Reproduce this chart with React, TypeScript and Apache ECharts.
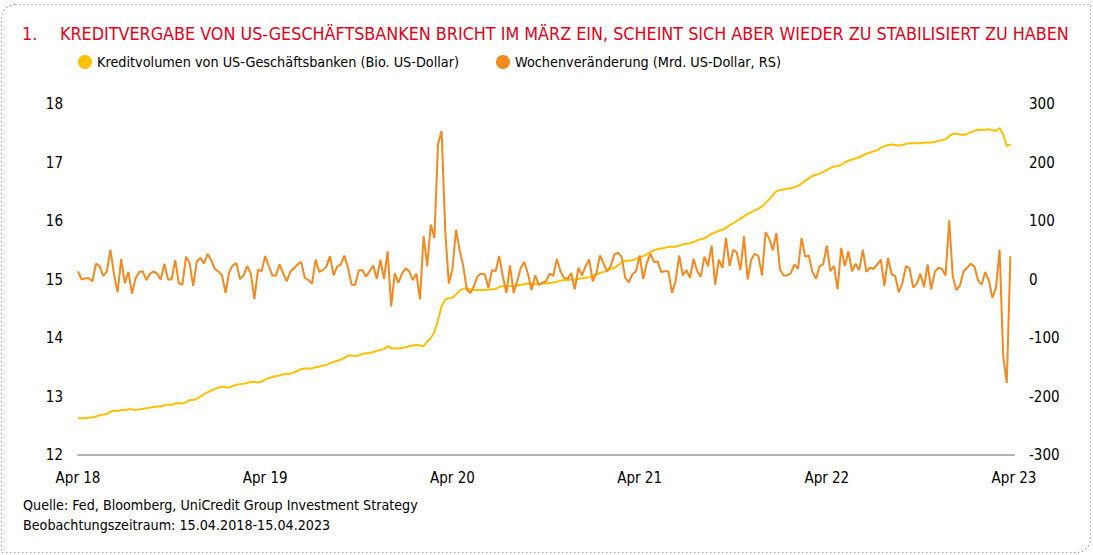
import React, { useEffect, useRef } from "react";
import * as echarts from "echarts";

const FONT = "'Liberation Sans Narrow', 'DejaVu Sans Condensed', 'Noto Sans', sans-serif";

const titleNumber = "1.";
const titleText =
  "KREDITVERGABE VON US-GESCHÄFTSBANKEN BRICHT IM MÄRZ EIN, SCHEINT SICH ABER WIEDER ZU STABILISIERT ZU HABEN";
const seriesNames = [
  "Kreditvolumen von US-Geschäftsbanken (Bio. US-Dollar)",
  "Wochenveränderung (Mrd. US-Dollar, RS)",
];
const footerLines = [
  "Quelle: Fed, Bloomberg, UniCredit Group Investment Strategy",
  "Beobachtungszeitraum: 15.04.2018-15.04.2023",
];
const tickLabels = ["Apr 18", "Apr 19", "Apr 20", "Apr 21", "Apr 22", "Apr 23"];
const weeksPerYear = 52;
const weekCount = 261;
const startDate = Date.UTC(2018, 3, 15);
const categories = Array.from({ length: weekCount }, (_, i) =>
  new Date(startDate + i * 7 * 86400000).toISOString().slice(0, 10)
);

// Credit volume, trillion USD (left axis)
const creditVolume = [
  12.63, 12.63, 12.63, 12.64, 12.64, 12.66, 12.68, 12.69, 12.70, 12.74,
  12.76, 12.75, 12.77, 12.77, 12.78, 12.78, 12.77, 12.78, 12.79, 12.80,
  12.81, 12.82, 12.83, 12.83, 12.85, 12.86, 12.86, 12.88, 12.89, 12.88,
  12.90, 12.94, 12.94, 12.96, 13.00, 13.04, 13.07, 13.10, 13.13, 13.15,
  13.17, 13.16, 13.15, 13.18, 13.20, 13.21, 13.22, 13.23, 13.25, 13.25,
  13.24, 13.26, 13.29, 13.32, 13.33, 13.35, 13.36, 13.38, 13.39, 13.39,
  13.41, 13.44, 13.47, 13.48, 13.48, 13.48, 13.50, 13.51, 13.53, 13.54,
  13.57, 13.59, 13.61, 13.63, 13.66, 13.70, 13.70, 13.69, 13.70, 13.73,
  13.74, 13.74, 13.76, 13.78, 13.80, 13.81, 13.86, 13.83, 13.82, 13.82,
  13.83, 13.84, 13.86, 13.87, 13.88, 13.87, 13.86, 13.94, 14.00, 14.10,
  14.31, 14.54, 14.66, 14.68, 14.69, 14.74, 14.81, 14.84, 14.85, 14.83,
  14.82, 14.82, 14.82, 14.82, 14.83, 14.83, 14.84, 14.87, 14.89, 14.89,
  14.89, 14.89, 14.90, 14.91, 14.92, 14.93, 14.92, 14.92, 14.92, 14.93,
  14.93, 14.94, 14.95, 14.96, 14.98, 14.99, 14.99, 15.00, 15.00, 15.01,
  15.02, 15.03, 15.04, 15.06, 15.09, 15.11, 15.13, 15.15, 15.18, 15.20,
  15.24, 15.29, 15.32, 15.32, 15.33, 15.35, 15.38, 15.40, 15.43, 15.47,
  15.50, 15.52, 15.53, 15.54, 15.56, 15.56, 15.56, 15.58, 15.60, 15.61,
  15.62, 15.64, 15.67, 15.69, 15.70, 15.74, 15.78, 15.81, 15.83, 15.85,
  15.88, 15.93, 15.96, 16.00, 16.04, 16.08, 16.12, 16.15, 16.18, 16.21,
  16.25, 16.31, 16.37, 16.44, 16.51, 16.53, 16.54, 16.55, 16.56, 16.58,
  16.60, 16.64, 16.69, 16.73, 16.77, 16.79, 16.81, 16.84, 16.87, 16.91,
  16.93, 16.94, 16.96, 17.00, 17.03, 17.05, 17.07, 17.09, 17.12, 17.15,
  17.17, 17.19, 17.21, 17.25, 17.28, 17.30, 17.31, 17.30, 17.29, 17.30,
  17.32, 17.33, 17.33, 17.33, 17.33, 17.34, 17.34, 17.34, 17.35, 17.37,
  17.38, 17.40, 17.45, 17.49, 17.49, 17.48, 17.47, 17.49, 17.52, 17.54,
  17.56, 17.56, 17.56, 17.57, 17.55, 17.54, 17.59, 17.48, 17.28, 17.31,
];

// Weekly change, billion USD (right axis)
const weeklyChange = [
  14, 0, 2, 2, -3, 27, 23, 6, 14, 51,
  9, -22, 35, -6, 13, -24, 2, 13, 14, -1,
  10, 14, 10, 0, 27, 0, 0, 33, -6, -9,
  39, 28, -11, 31, 37, 27, 44, 33, 18, 14,
  7, -23, 13, 24, 28, 1, 7, 23, 10, -33,
  17, 14, 40, 23, 7, 7, 26, 10, -3, 14,
  19, 26, 30, 3, -1, -7, 34, 13, 16, 22,
  40, 7, 22, 26, 41, 20, -9, -9, 16, 16,
  5, 14, 24, 1, 34, 1, 48, -46, 11, -6,
  10, 19, 14, -1, 10, -34, 74, 23, 94, 71,
  231, 254, 85, -7, 17, 85, 51, 23, -17, -23,
  -11, 6, 10, 9, -14, 16, 14, 40, 6, -23,
  24, -23, -3, 20, 30, 9, -18, 7,
  -9, -6, -3, 10, 6, 35, 14, 3, 1, 11,
  -17, 20, 7, 23, 34, -3, 11, 41, 27, 14,
  23, 43, 46, 39, 3, -5, 9, 14, 41, 1,
  28, 44, 30, 31, 13, 14, 14, -23, -3, 41,
  7, 16, 3, 35, 14, 5, 39, 23, 58, -9,
  34, 20, 71, 23, 51, 46, 16, 74, 0, 34,
  44, 40, 7, 81, 70, 50, 79, 17, 7, 7,
  11, 26, 18, 71, 39, 41, 13, 1, 23, 26,
  58, 14, 23, -17, 54, 23, 48, 14, 27, 16,
  51, 13, 20, 18, 26, 34, -11, 37, 9, 6,
  -22, -6, 23, 19, -14, -7, 10, -13, 26, -17,
  13, 20, 18, 7, 101, 5, -18, -10, 14, 20,
  27, 22, -1, -9, 13, -1, -31, -14, 51, -131,
  -177, 40,
];

const leftMin = 12;
const leftMax = 18;
const leftInterval = 1;
const rightMin = -300;
const rightMax = 300;
const rightInterval = 100;

const RED = "#E2001A";
const YELLOW = "#FFC000";
const ORANGE = "#F4891F";

export default function App() {
  const ref = useRef<HTMLDivElement>(null);

  useEffect(() => {
    if (!ref.current) return;
    const chart = echarts.init(ref.current, undefined, { renderer: "svg" });
    chart.setOption({
      animation: false,
      backgroundColor: "#ffffff",
      textStyle: { fontFamily: FONT },
      grid: { left: 78, right: 79, top: 104, bottom: 100, containLabel: false },
      legend: {
        left: 78,
        top: 55,
        padding: 0,
        icon: "circle",
        itemWidth: 14,
        itemHeight: 14,
        itemGap: 37,
        textStyle: { fontFamily: FONT, fontSize: 14.3, color: "#000", padding: [0, 0, 0, 0] },
        data: seriesNames,
      },
      xAxis: {
        type: "category",
        data: categories,
        boundaryGap: false,
        axisLine: { show: true, onZero: false, lineStyle: { color: "#b3b3b3", width: 2 } },
        axisTick: { show: false },
        splitLine: { show: false },
        axisLabel: {
          interval: (i: number) => i % weeksPerYear === 0,
          formatter: (_v: string, i: number) => tickLabels[Math.round(i / weeksPerYear)] ?? "",
          color: "#000",
          fontFamily: FONT,
          fontSize: 15,
          margin: 15,
          showMaxLabel: true,
        },
      },
      yAxis: [
        {
          type: "value",
          min: leftMin,
          max: leftMax,
          interval: leftInterval,
          position: "left",
          axisLine: { show: false },
          axisTick: { show: false },
          splitLine: { show: false },
          axisLabel: { color: "#000", fontFamily: FONT, fontSize: 15, margin: 15 },
        },
        {
          type: "value",
          min: rightMin,
          max: rightMax,
          interval: rightInterval,
          position: "right",
          axisLine: { show: false },
          axisTick: { show: false },
          splitLine: { show: false },
          axisLabel: { color: "#000", fontFamily: FONT, fontSize: 15, margin: 15 },
        },
      ],
      series: [
        {
          name: seriesNames[0],
          type: "line",
          yAxisIndex: 0,
          data: creditVolume,
          symbol: "none",
          color: YELLOW,
          lineStyle: { color: YELLOW, width: 2 },
          z: 2,
        },
        {
          name: seriesNames[1],
          type: "line",
          yAxisIndex: 1,
          data: weeklyChange,
          symbol: "none",
          color: ORANGE,
          lineStyle: { color: ORANGE, width: 2 },
          z: 3,
        },
      ],
      graphic: [
        {
          type: "rect",
          shape: { x: 1.5, y: 4.5, width: 1089, height: 548, r: [14, 0, 14, 0] },
          style: { fill: "none", stroke: "#777777", lineWidth: 1.2, lineDash: [1, 3] },
          silent: true,
        },
        {
          type: "text",
          left: 22,
          top: 24,
          style: { text: titleNumber, fill: RED, fontFamily: FONT, fontSize: 17.8 },
        },
        {
          type: "text",
          left: 60,
          top: 24,
          style: { text: titleText, fill: RED, fontFamily: FONT, fontSize: 17.8 },
        },
        {
          type: "text",
          left: 23,
          top: 498,
          style: { text: footerLines[0], fill: "#000", fontFamily: FONT, fontSize: 14.2 },
        },
        {
          type: "text",
          left: 23,
          top: 518,
          style: { text: footerLines[1], fill: "#000", fontFamily: FONT, fontSize: 14.2 },
        },
      ],
    });
    return () => chart.dispose();
  }, []);

  return (
    <div
      ref={ref}
      style={{ position: "fixed", left: 0, top: 0, width: 1093, height: 555, background: "#fff" }}
    />
  );
}
